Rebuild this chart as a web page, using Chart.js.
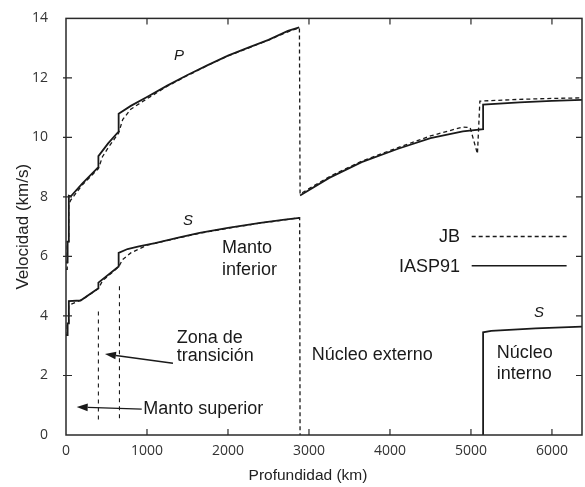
<!DOCTYPE html>
<html>
<head>
<meta charset="utf-8">
<script src="https://cdn.jsdelivr.net/npm/chart.js@4/dist/chart.umd.min.js"></script>
<style>
  html, body { margin: 0; padding: 0; background: #ffffff; }
  #c { display: block; }
</style>
</head>
<body>
<canvas id="c" width="585" height="487"></canvas>
<script>
// ---------- DATA ----------
// P waves, IASP91 (solid) - mantle
const pIaspMantleDepth = [0, 20, 20, 35, 35, 60, 200, 400, 400, 520, 650, 650, 800, 1000, 1250, 1500, 1750, 2000, 2250, 2500, 2740, 2880];
const pIaspMantleVel   = [5.8, 5.8, 6.5, 6.5, 8.04, 8.02, 8.45, 9.0, 9.37, 9.8, 10.2, 10.8, 11.06, 11.36, 11.74, 12.1, 12.43, 12.75, 13.02, 13.28, 13.58, 13.7];
// P waves, IASP91 (solid) - core
const pIaspCoreDepth = [2890, 3250, 3650, 4100, 4500, 4900, 5150, 5150, 5600, 6000, 6371];
const pIaspCoreVel   = [8.05, 8.64, 9.17, 9.62, 9.98, 10.2, 10.28, 11.1, 11.18, 11.23, 11.26];
// P waves, JB (dashed)
const pJbDepth = [0, 15, 15, 33, 33, 60, 200, 400, 450, 520, 650, 700, 800, 1000, 1250, 1500, 1750, 2000, 2250, 2500, 2740, 2882, 2890, 3250, 3650, 4100, 4500, 4900, 4990, 5080, 5110, 5600, 6000, 6371];
const pJbVel   = [5.57, 5.57, 6.5, 6.5, 7.75, 7.9, 8.4, 8.95, 9.35, 9.65, 10.15, 10.6, 10.95, 11.3, 11.72, 12.08, 12.42, 12.74, 13.0, 13.27, 13.55, 13.68, 8.1, 8.68, 9.2, 9.66, 10.05, 10.35, 10.33, 9.45, 11.22, 11.28, 11.31, 11.33];
// S waves, IASP91 (solid) - mantle
const sIaspMantleDepth = [0, 20, 20, 35, 35, 180, 400, 400, 650, 650, 760, 900, 1100, 1400, 1650, 2000, 2400, 2700, 2885];
const sIaspMantleVel   = [3.36, 3.36, 3.75, 3.75, 4.5, 4.52, 4.93, 5.12, 5.66, 6.12, 6.25, 6.34, 6.45, 6.64, 6.79, 6.96, 7.13, 7.24, 7.3];
// S waves, IASP91 (solid) - inner core
const sIaspInnerDepth = [5150, 5150, 5250, 5800, 6371];
const sIaspInnerVel   = [0, 3.45, 3.5, 3.58, 3.64];
// S waves, JB (dashed)
const sJbDepth = [0, 15, 15, 33, 33, 200, 400, 450, 650, 700, 800, 1000, 1400, 1650, 2000, 2400, 2700, 2885, 2890];
const sJbVel   = [3.37, 3.37, 3.74, 3.74, 4.36, 4.55, 4.92, 5.18, 5.65, 5.9, 6.12, 6.38, 6.63, 6.78, 6.95, 7.12, 7.23, 7.3, 0];
// Transition-zone boundaries (dashed markers)
const tzDepth  = [400, 660];
const tzTop    = [4.15, 5.0];
const tzBottom = [0.45, 0.55];

// Axis ticks
const xTicks = [0, 1000, 2000, 3000, 4000, 5000, 6000];
const yTicks = [0, 2, 4, 6, 8, 10, 12, 14];
const xMax = 6371;
const yMax = 14;

// Text annotations (depth km, velocity km/s)
const labels = [
  { text: "P", x: 1395, y: 12.6, italic: true, size: 15, align: "center" },
  { text: "S", x: 1506, y: 7.05, italic: true, size: 15, align: "center" },
  { text: "S", x: 5840, y: 3.98, italic: true, size: 15, align: "center" },
  { text: "Manto", x: 1926, y: 6.11 },
  { text: "inferior", x: 1926, y: 5.39 },
  { text: "Núcleo externo", x: 3033, y: 2.52 },
  { text: "Núcleo", x: 5317, y: 2.58 },
  { text: "interno", x: 5317, y: 1.89 },
  { text: "Zona de", x: 1367, y: 3.08 },
  { text: "transición", x: 1367, y: 2.47 },
  { text: "Manto superior", x: 954, y: 0.72 }
];
const arrows = [
  { from: [1321, 2.41], to: [481, 2.72] },
  { from: [935, 0.87], to: [132, 0.94] }
];
const legendItems = [
  { text: "JB", y: 6.67, dash: [4, 3] },
  { text: "IASP91", y: 5.69, dash: [] }
];
const legendTextRight = 4864, legendLineFrom = 5009, legendLineTo = 6181;
const xTitle = { text: "Profundidad (km)", x: 2988 };

// ---------- BUILD ----------
const pts = (xs, ys) => xs.map((x, i) => ({ x: x, y: ys[i] }));
const INK = "#1a1a1a";
const solid = { borderColor: INK, borderWidth: 1.8, pointRadius: 0, tension: 0, fill: false, borderDash: [] };
const dashed = { borderColor: INK, borderWidth: 1.3, pointRadius: 0, tension: 0, fill: false, borderDash: [4, 3] };

const tzData = [];
tzDepth.forEach((d, i) => {
  tzData.push({ x: d, y: tzTop[i] }, { x: d, y: tzBottom[i] });
  if (i < tzDepth.length - 1) tzData.push({ x: d + 1, y: null });
});

const datasets = [
  Object.assign({ label: "P IASP91 manto", data: pts(pIaspMantleDepth, pIaspMantleVel) }, solid),
  Object.assign({ label: "P IASP91 núcleo", data: pts(pIaspCoreDepth, pIaspCoreVel) }, solid),
  Object.assign({ label: "P JB", data: pts(pJbDepth, pJbVel) }, dashed),
  Object.assign({ label: "S IASP91 manto", data: pts(sIaspMantleDepth, sIaspMantleVel) }, solid),
  Object.assign({ label: "S IASP91 núcleo interno", data: pts(sIaspInnerDepth, sIaspInnerVel) }, solid),
  Object.assign({ label: "S JB", data: pts(sJbDepth, sJbVel) }, dashed),
  Object.assign({ label: "zona de transición", data: tzData, spanGaps: false }, dashed, { borderWidth: 1.1, borderDash: [4, 4] })
];

const decor = {
  id: "decor",
  afterDatasetsDraw(chart) {
    const ctx = chart.ctx;
    const a = chart.chartArea;
    const xs = chart.scales.x, ys = chart.scales.y;
    ctx.save();
    // frame
    ctx.strokeStyle = "#2a2a2a";
    ctx.lineWidth = 1.5;
    ctx.setLineDash([]);
    ctx.strokeRect(a.left, a.top, a.right - a.left, a.bottom - a.top);
    // inside ticks
    ctx.lineWidth = 1.2;
    const tl = 6;
    xTicks.forEach(v => {
      if (v === 0) return;
      const px = xs.getPixelForValue(v);
      ctx.beginPath();
      ctx.moveTo(px, a.bottom); ctx.lineTo(px, a.bottom - tl);
      ctx.moveTo(px, a.top); ctx.lineTo(px, a.top + tl);
      ctx.stroke();
    });
    yTicks.forEach(v => {
      if (v === 0 || v === yMax) return;
      const py = ys.getPixelForValue(v);
      ctx.beginPath();
      ctx.moveTo(a.left - 3, py); ctx.lineTo(a.left + tl, py);
      ctx.moveTo(a.right, py); ctx.lineTo(a.right - tl, py);
      ctx.stroke();
    });
    // text labels
    ctx.fillStyle = "#1a1a1a";
    ctx.textBaseline = "alphabetic";
    labels.forEach(l => {
      ctx.font = (l.italic ? "italic " : "") + (l.size || 18) + "px 'Liberation Sans', Arial, sans-serif";
      ctx.textAlign = l.align || "left";
      ctx.fillText(l.text, xs.getPixelForValue(l.x), ys.getPixelForValue(l.y));
    });
    // x axis title
    ctx.font = "15.5px 'Liberation Sans', Arial, sans-serif";
    ctx.textAlign = "center";
    ctx.textBaseline = "middle";
    ctx.fillStyle = "#222";
    ctx.fillText(xTitle.text, xs.getPixelForValue(xTitle.x), a.bottom + 41);
    // arrows
    ctx.fillStyle = "#1a1a1a";
    ctx.strokeStyle = "#1a1a1a";
    ctx.lineWidth = 1.4;
    arrows.forEach(ar => {
      const x1 = xs.getPixelForValue(ar.from[0]), y1 = ys.getPixelForValue(ar.from[1]);
      const x2 = xs.getPixelForValue(ar.to[0]), y2 = ys.getPixelForValue(ar.to[1]);
      const ang = Math.atan2(y2 - y1, x2 - x1);
      const hl = 11, hw = 3.8;
      const bx = x2 - hl * Math.cos(ang), by = y2 - hl * Math.sin(ang);
      ctx.beginPath();
      ctx.moveTo(x1, y1); ctx.lineTo(bx, by);
      ctx.stroke();
      ctx.beginPath();
      ctx.moveTo(x2, y2);
      ctx.lineTo(bx + hw * Math.sin(ang), by - hw * Math.cos(ang));
      ctx.lineTo(bx - hw * Math.sin(ang), by + hw * Math.cos(ang));
      ctx.closePath();
      ctx.fill();
    });
    // legend
    ctx.font = "18px 'Liberation Sans', Arial, sans-serif";
    ctx.textAlign = "right";
    ctx.textBaseline = "middle";
    legendItems.forEach(it => {
      const py = ys.getPixelForValue(it.y);
      ctx.fillText(it.text, xs.getPixelForValue(legendTextRight), py + 1);
      ctx.beginPath();
      ctx.setLineDash(it.dash);
      ctx.lineWidth = it.dash.length ? 1.3 : 1.5;
      ctx.moveTo(xs.getPixelForValue(legendLineFrom), py);
      ctx.lineTo(xs.getPixelForValue(legendLineTo), py);
      ctx.stroke();
    });
    ctx.restore();
  }
};

new Chart(document.getElementById("c"), {
  type: "line",
  data: { datasets: datasets },
  options: {
    responsive: false,
    animation: false,
    devicePixelRatio: 1,
    layout: { padding: { top: 15, right: 3, left: 0, bottom: 0 } },
    plugins: { legend: { display: false }, tooltip: { enabled: false } },
    scales: {
      x: {
        type: "linear",
        min: 0, max: xMax,
        grid: { display: false },
        border: { display: false },
        afterFit: s => { s.height = 52; },
        afterBuildTicks: s => { s.ticks = xTicks.map(v => ({ value: v })); },
        ticks: { color: "#333", padding: 0, maxRotation: 0, autoSkip: false, font: { family: "'Open Sans', sans-serif", size: 14 }, callback: v => String(v) },
        title: { display: false }
      },
      y: {
        min: 0, max: yMax,
        grid: { display: false },
        border: { display: false },
        afterFit: s => { s.width = 66; },
        afterBuildTicks: s => { s.ticks = yTicks.map(v => ({ value: v })); },
        ticks: { color: "#333", padding: 10, autoSkip: false, font: { family: "'Open Sans', sans-serif", size: 14 }, callback: v => String(v) },
        title: { display: true, text: "Velocidad (km/s)", color: "#222", padding: { top: 13, bottom: 0 }, font: { family: "'Liberation Sans', Arial, sans-serif", size: 17 } }
      }
    }
  },
  plugins: [decor]
});
</script>
</body>
</html>
